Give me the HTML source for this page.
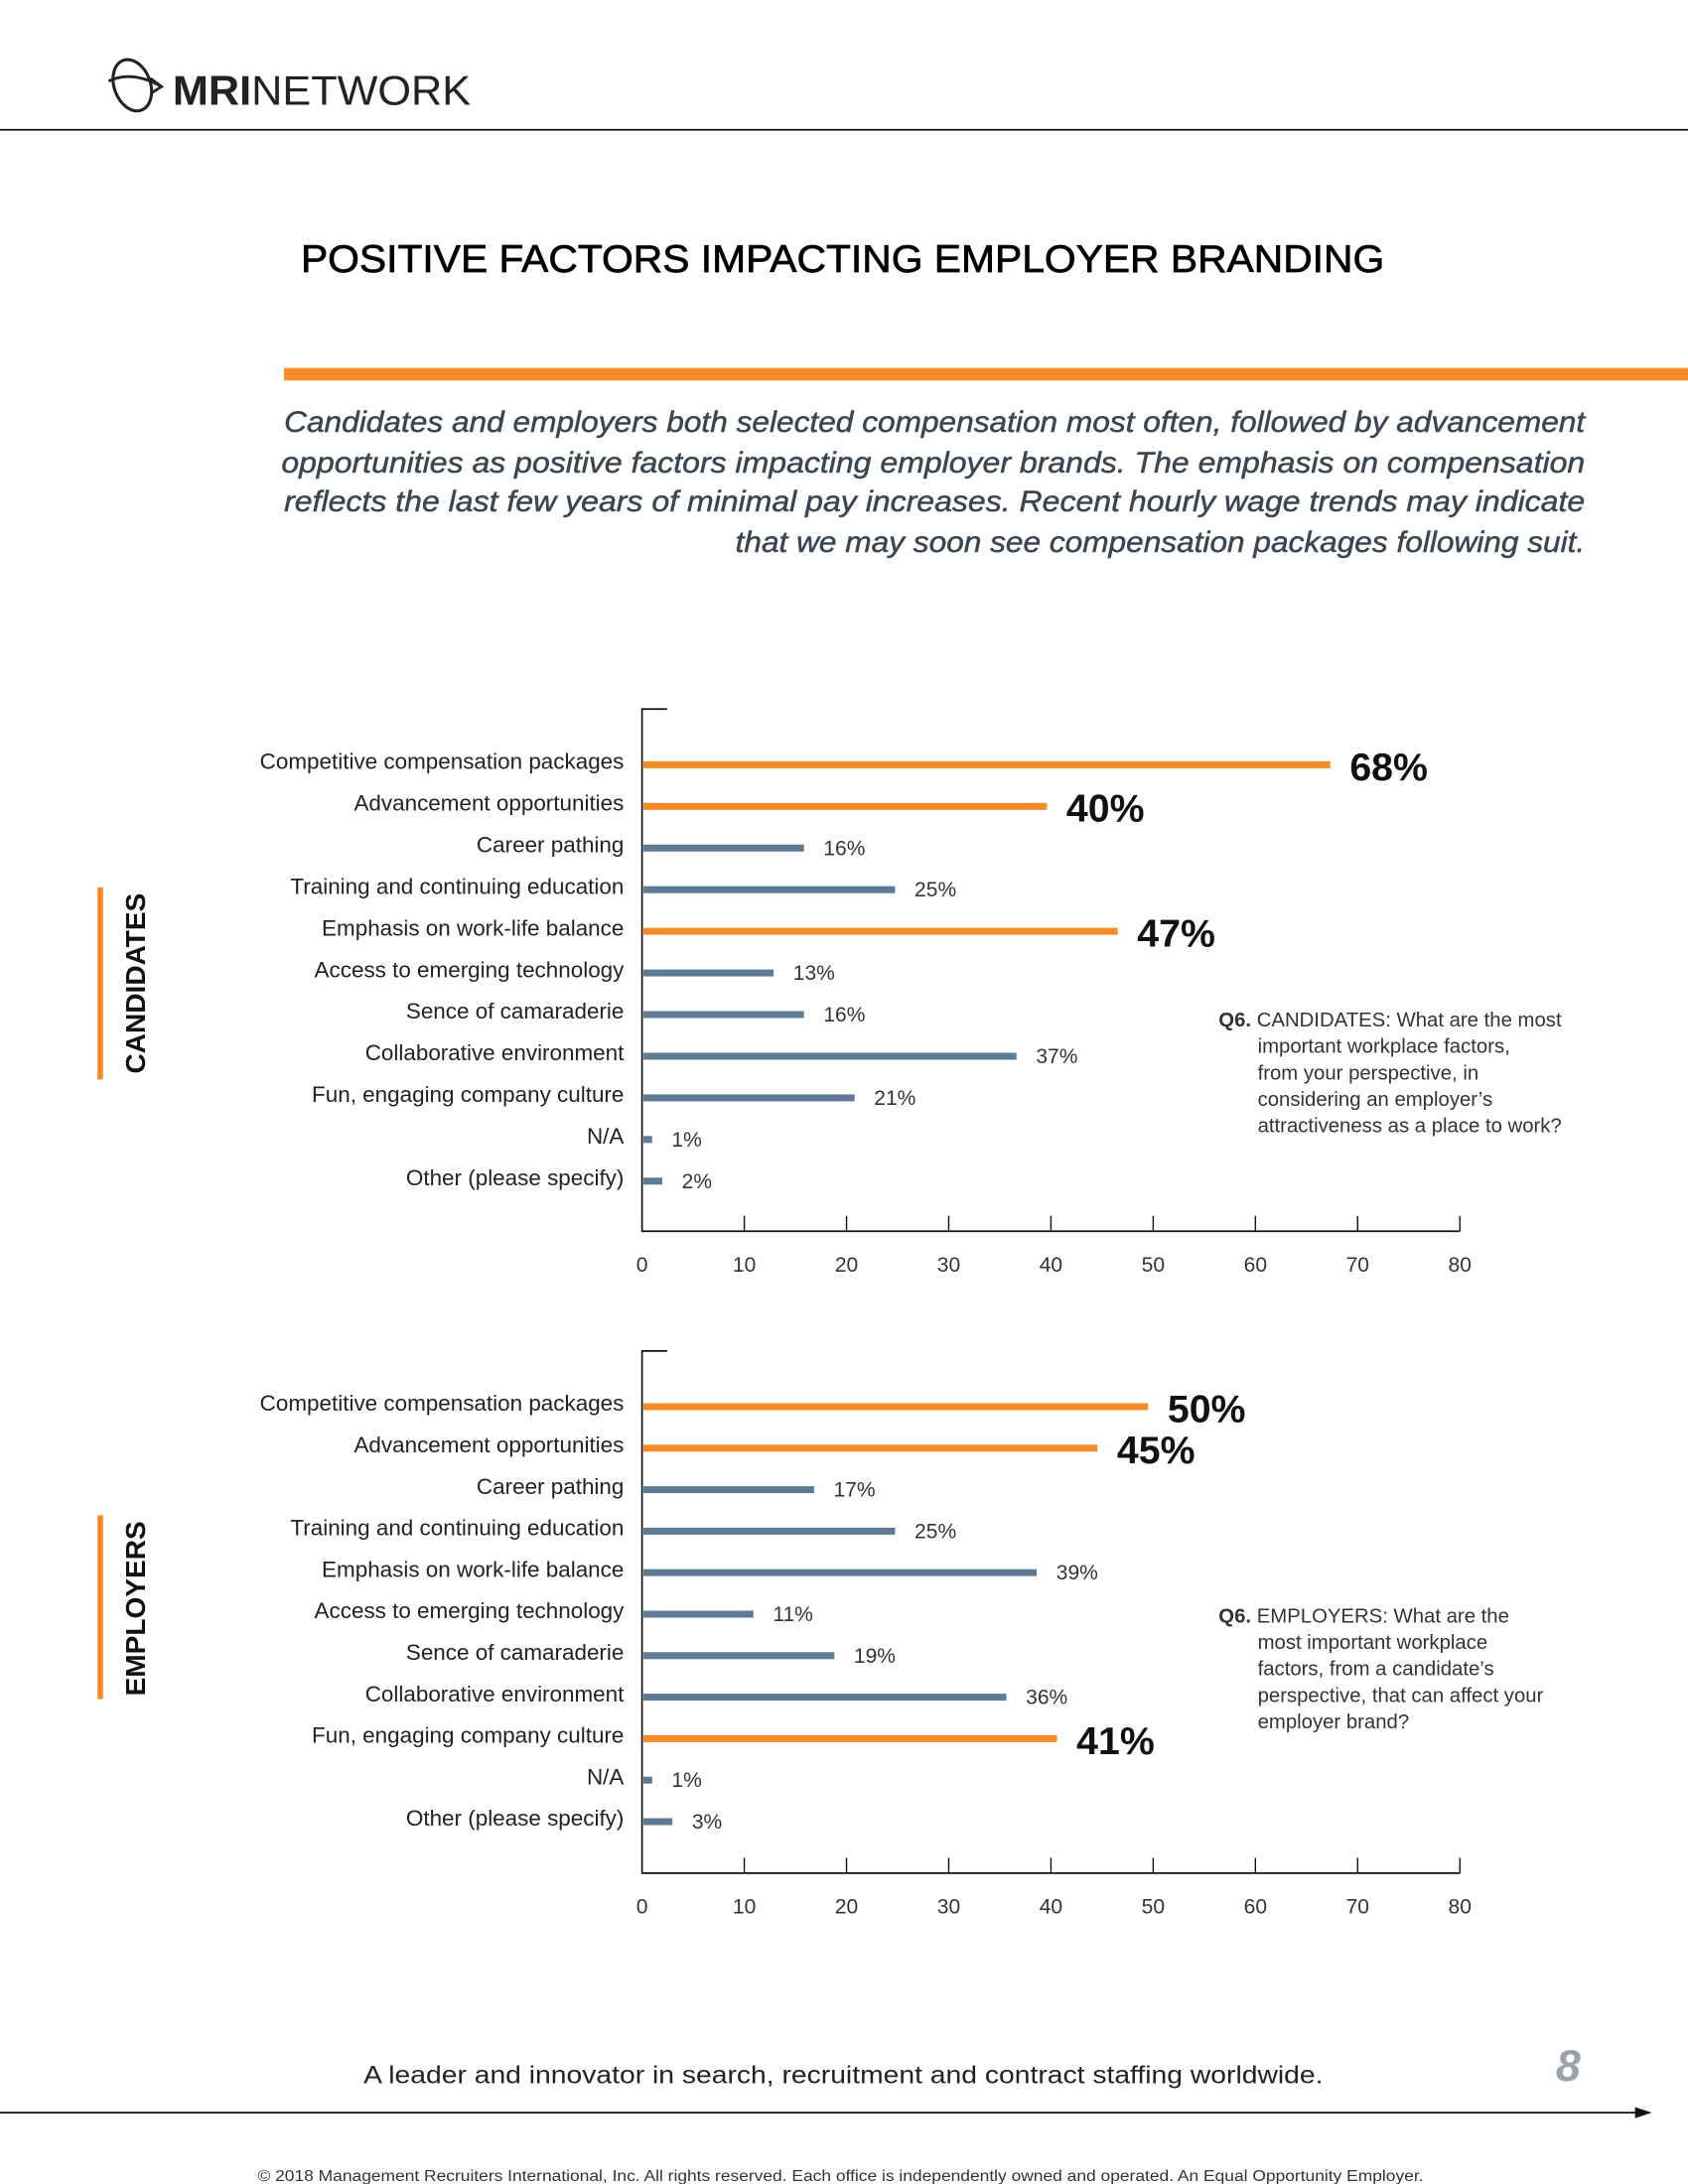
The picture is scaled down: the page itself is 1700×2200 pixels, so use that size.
<!DOCTYPE html>
<html><head><meta charset="utf-8">
<style>
html,body{margin:0;padding:0;background:#fff;}
svg{display:block;font-family:"Liberation Sans",sans-serif;}
</style></head>
<body>
<svg id="page" width="1700" height="2200" viewBox="0 0 1212 1568" xmlns="http://www.w3.org/2000/svg">
  <g>
    <ellipse cx="95" cy="61" rx="13" ry="19" fill="none" stroke="#222" stroke-width="2.2" transform="rotate(-20 95 61)"/>
    <path d="M78 58 Q95 50 116 62 M108 56 L116 62 L108 67" fill="none" stroke="#222" stroke-width="2"/>
    <text x="124" y="75" font-size="30" textLength="214" lengthAdjust="spacingAndGlyphs" fill="#222"><tspan font-weight="bold">MRI</tspan>NETWORK</text>
  </g>
  <line x1="0" y1="93" x2="1212" y2="93" stroke="#111" stroke-width="1.3"/>
  <text x="216" y="195" font-size="28" textLength="778" lengthAdjust="spacingAndGlyphs" fill="#000" stroke="#000" stroke-width="0.5">POSITIVE FACTORS IMPACTING EMPLOYER BRANDING</text>
  <rect x="204" y="264" width="1008" height="9" fill="#F68B28"/>
  <g font-size="21" font-style="italic" fill="#3a4652" stroke="#3a4652" stroke-width="0.35" text-anchor="end">
    <text x="1138" y="310" textLength="934" lengthAdjust="spacingAndGlyphs">Candidates and employers both selected compensation most often, followed by advancement</text>
    <text x="1138" y="339" textLength="936" lengthAdjust="spacingAndGlyphs">opportunities as positive factors impacting employer brands. The emphasis on compensation</text>
    <text x="1138" y="367" textLength="934" lengthAdjust="spacingAndGlyphs">reflects the last few years of minimal pay increases. Recent hourly wage trends may indicate</text>
    <text x="1138" y="396" textLength="610" lengthAdjust="spacingAndGlyphs">that we may soon see compensation packages following suit.</text>
  </g>

  <g>
    <rect x="70" y="637" width="4" height="138" fill="#F68B28"/>
    <text x="0" y="0" transform="translate(104 706) rotate(-90)" text-anchor="middle" font-size="20" font-weight="bold" fill="#111">CANDIDATES</text>
  </g>
  <g>
    <rect x="70" y="1088" width="4" height="132" fill="#F68B28"/>
    <text x="0" y="0" transform="translate(104 1155) rotate(-90)" text-anchor="middle" font-size="20" font-weight="bold" fill="#111">EMPLOYERS</text>
  </g>

  <g id="chart1"></g>
  <g id="chart2"></g>

  <g font-size="14.5" fill="#333">
    <text x="875" y="737"><tspan font-weight="bold">Q6.</tspan> CANDIDATES: What are the most</text>
    <text x="903" y="756">important workplace  factors,</text>
    <text x="903" y="775">from  your perspective, in</text>
    <text x="903" y="794">considering an employer’s</text>
    <text x="903" y="813">attractiveness as a place to work?</text>
  </g>
  <g font-size="14.5" fill="#333">
    <text x="875" y="1165"><tspan font-weight="bold">Q6.</tspan> EMPLOYERS: What are the</text>
    <text x="903" y="1184">most important workplace</text>
    <text x="903" y="1203">factors, from a candidate’s</text>
    <text x="903" y="1222">perspective, that can affect your</text>
    <text x="903" y="1241">employer brand?</text>
  </g>

  <text x="261" y="1496" font-size="18" textLength="689" lengthAdjust="spacingAndGlyphs" fill="#222">A leader and innovator in search, recruitment and contract staffing worldwide.</text>
  <text x="1126" y="1494" text-anchor="middle" font-size="32" font-weight="bold" font-style="italic" fill="#9aa3ab">8</text>
  <g>
    <line x1="0" y1="1517" x2="1182" y2="1517" stroke="#111" stroke-width="1.2"/>
    <path d="M1174 1513 L1186 1517 L1174 1521 Z" fill="#111"/>
  </g>
  <text x="185" y="1566" font-size="11" textLength="837" lengthAdjust="spacingAndGlyphs" fill="#333">© 2018 Management Recruiters International, Inc.  All rights reserved.  Each office is independently owned and operated. An Equal Opportunity Employer.</text>
</svg>
<script>
const categories = ["Competitive compensation packages","Advancement opportunities","Career pathing","Training and continuing education","Emphasis on work-life balance","Access to emerging technology","Sence of camaraderie","Collaborative environment","Fun, engaging company culture","N/A","Other (please specify)"];
const candidateValues = [68,40,16,25,47,13,16,37,21,1,2];
const employerValues = [50,45,17,25,39,11,19,36,41,1,3];
const candidateHighlight = [true,true,false,false,true,false,false,false,false,false,false];
const employerHighlight = [true,true,false,false,false,false,false,false,true,false,false];
const tickValues = [0,10,20,30,40,50,60,70,80];

const NS = "http://www.w3.org/2000/svg";
function mk(tag, attrs, parent){
  const e = document.createElementNS(NS, tag);
  for (const k in attrs) e.setAttribute(k, attrs[k]);
  parent.appendChild(e);
  return e;
}
function drawChart(g, values, highlight, top, firstRow, rowGap, axisY, prefix){
  const x0 = 461, perUnit = 7.34;
  const xs = v => x0 + v * perUnit * 0.99;
  const xt = v => x0 + v * perUnit;
  const yr = i => firstRow + i * rowGap;
  const axis = mk("path", {d:`M${x0+18} ${top} H${x0} V${axisY} H${xt(80)}`, fill:"none", stroke:"#111", "stroke-width":1.2}, g);
  
  
  tickValues.forEach(t => {
    if (t > 0) {
      const tk = mk("line", {x1:xt(t), x2:xt(t), y1:axisY-11, y2:axisY, stroke:"#111", "stroke-width":1}, g);
      
      
    }
    const tl = mk("text", {x:xt(t), y:axisY+29, "text-anchor":"middle", "font-size":15, fill:"#333"}, g);
    tl.textContent = t;
    
    
  });
  values.forEach((v, i) => {
    const y = yr(i);
    const lab = mk("text", {x:448, y:y+3, "text-anchor":"end", "font-size":16, fill:"#222"}, g);
    lab.textContent = categories[i];
    
    
    const hi = highlight[i];
    const bar = mk("rect", {x:x0+1, y:y-2.5, width:Math.max(xs(v)-x0-1,1), height:5, fill: hi ? "#F68B28" : "#5F7B93"}, g);
    
    
    const vl = mk("text", {x:xs(v)+14, y: hi ? y+11 : y+5, "font-size": hi ? 28 : 15, "font-weight": hi ? "bold" : "normal", fill: hi ? "#111" : "#333"}, g);
    vl.textContent = v + "%";
    
    
  });
}
drawChart(document.getElementById("chart1"), candidateValues, candidateHighlight, 509, 549, 29.9, 884, "candidates");
drawChart(document.getElementById("chart2"), employerValues, employerHighlight, 970, 1010, 29.8, 1345, "employers");
</script>
</body></html>
